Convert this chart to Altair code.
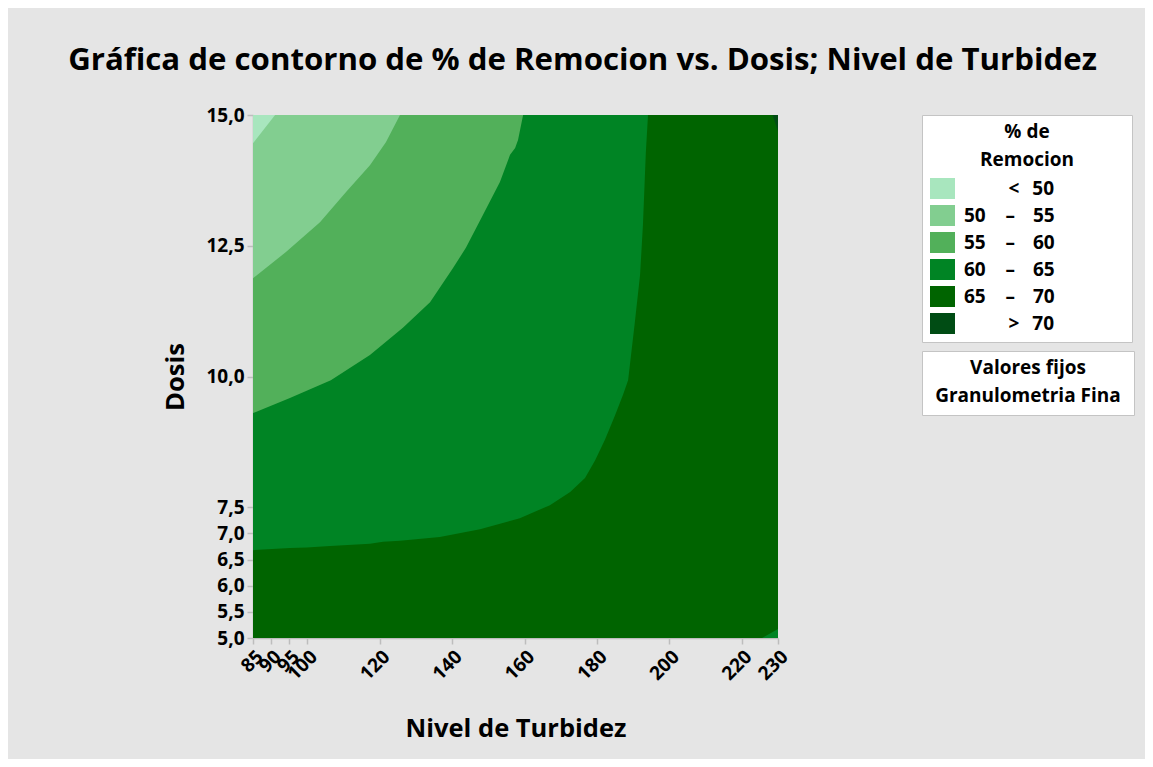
import altair as alt
import pandas as pd

FONT = "Open Sans"
NB = "\u00a0"
ZW = "\u200b"
TH = "\u2009"

title_text = "Gráfica de contorno de % de Remocion vs. Dosis; Nivel de Turbidez"
x_title = "Nivel de Turbidez"
y_title = "Dosis"
fixed_title = "Valores fijos"
fixed_value = "Granulometria Fina"
legend_title = ["% de", "Remocion"]

band_names = ["< 50", "50 – 55", "55 – 60", "60 – 65", "65 – 70", "> 70"]
band_colors = ["#a8e6be", "#82ce90", "#52b05a", "#008424", "#006400", "#004c14"]

x_ticks = [85, 90, 95, 100, 120, 140, 160, 180, 200, 220, 230]
y_ticks = [5.0, 5.5, 6.0, 6.5, 7.0, 7.5, 10.0, 12.5, 15.0]
x_domain = [85, 230]
y_domain = [5, 15]

# full plot (65 - 70 background band)
base_x = [85, 230]
base_y = [5, 5]

# boundary 60-65 above / 65-70 below
bA_x = [85, 95.2, 99.8, 106.3, 117.3, 120.9, 125.6, 136.6, 147.7, 158.7, 167.0,
        172.6, 176.7, 179.5, 182.2, 185.0, 187.2, 188.6, 190.4, 191.9, 192.7, 193.5, 194.1]
bA_y = [6.68, 6.72, 6.73, 6.76, 6.80, 6.84, 6.86, 6.93, 7.08, 7.29, 7.54,
        7.79, 8.06, 8.40, 8.79, 9.26, 9.65, 9.93, 11.0, 11.94, 12.90, 14.29, 15.0]

# boundary 55-60 above / 60-65 below
bB_x = [85, 95.2, 106.5, 117.3, 126.4, 133.9, 140.2, 143.8, 148.5, 153.2, 156.0, 157.4, 158.2, 159.6]
bB_y = [9.30, 9.59, 9.93, 10.41, 10.93, 11.42, 12.07, 12.46, 13.09, 13.72, 14.24, 14.37, 14.52, 15.0]

# boundary 50-55 above / 55-60 below
bC_x = [85, 94.1, 103.5, 110.7, 117.3, 121.7, 125.6]
bC_y = [11.88, 12.38, 12.95, 13.53, 14.04, 14.48, 15.0]

# boundary <50 above / 50-55 below
bD_x = [85, 91.1]
bD_y = [14.46, 15.0]

# bottom-right sliver of 60-65
sE_x = [225.6, 230]
sE_y = [5.0, 5.17]

# top-right sliver of > 70
sF_x = [228.5, 230]
sF_y = [15.0, 14.69]

TRAIL = NB * 14 + ZW
label_map = {
    "< 50": ZW + NB * 9 + "<" + NB * 2 + TH + "50",
    "50 – 55": "50" + NB * 4 + "–" + NB * 3 + TH + "55",
    "55 – 60": "55" + NB * 4 + "–" + NB * 3 + TH + "60",
    "60 – 65": "60" + NB * 4 + "–" + NB * 3 + TH + "65",
    "65 – 70": "65" + NB * 4 + "–" + NB * 3 + TH + "70",
    "> 70": ZW + NB * 9 + ">" + NB * 2 + TH + "70",
}
band_display = [label_map[b] + TRAIL for b in band_names]
display_of = dict(zip(band_names, band_display))

regions = [
    ("base", "65 – 70", base_x, base_y, y_domain[1]),
    ("A", "60 – 65", bA_x, bA_y, y_domain[1]),
    ("B", "55 – 60", bB_x, bB_y, y_domain[1]),
    ("C", "50 – 55", bC_x, bC_y, y_domain[1]),
    ("D", "< 50", bD_x, bD_y, y_domain[1]),
    ("E", "60 – 65", sE_x, sE_y, y_domain[0]),
    ("F", "> 70", sF_x, sF_y, y_domain[1]),
]

rows = []
for part, band, xs, ys, edge in regions:
    for xv, yv in zip(xs, ys):
        rows.append({"part": part, "band": display_of[band], "x": xv, "y": yv, "edge": edge})
df = pd.DataFrame(rows)

x_enc = alt.X(
    "x:Q",
    scale=alt.Scale(domain=x_domain, nice=False, zero=False),
    axis=alt.Axis(
        title=x_title, values=x_ticks, format="d", labelAngle=315,
        labelOverlap=False, labelFlush=False, grid=False, titlePadding=33,
    ),
)
y_enc = alt.Y(
    "y:Q",
    scale=alt.Scale(domain=y_domain, nice=False, zero=False),
    stack=None,
    axis=alt.Axis(
        title=y_title, values=y_ticks,
        labelExpr="replace(format(datum.value, '.1f'), '.', ',')",
        labelOverlap=False, labelFlush=False, grid=False, titlePadding=17,
    ),
)

color_enc = alt.Color(
    "band:N",
    scale=alt.Scale(domain=band_display, range=band_colors),
    legend=alt.Legend(
        title=legend_title, orient="none", legendX=669, legendY=0,
        symbolType="M-1,-0.84H1V0.84H-1Z", symbolSize=625,
        symbolStrokeWidth=0, symbolOpacity=1, labelOffset=9, rowPadding=4,
        titleAnchor="middle", titleAlign="center", titleLineHeight=28,
        titlePadding=6, padding=8,
    ),
)

layers = []
for part, band, xs, ys, edge in regions:
    layers.append(
        alt.Chart(df)
        .transform_filter(alt.datum.part == part)
        .mark_area(interpolate="linear", opacity=1)
        .encode(x=x_enc, y=y_enc, y2=alt.Y2("edge:Q"), color=color_enc)
    )

# fixed-value box: both lines drawn as the legend title, entry kept invisible
fixed_df = pd.DataFrame({"x": [x_domain[0]], "y": [y_domain[0]], "fijo": [ZW]})
fixed_layer = alt.Chart(fixed_df).mark_point(size=0, opacity=0).encode(
    x=x_enc, y=y_enc,
    shape=alt.Shape(
        "fijo:N",
        legend=alt.Legend(
            title=[fixed_title, ZW + NB + fixed_value + NB + ZW],
            orient="none", legendX=669, legendY=236,
            symbolOpacity=0, symbolSize=0, symbolStrokeWidth=0, labelOffset=0,
            labelFontSize=1, labelOpacity=0, labelExpr="''",
            titleAnchor="middle", titleAlign="center",
            titleLineHeight=28, titlePadding=0, padding=8, rowPadding=0,
        ),
    ),
)
layers.append(fixed_layer)

chart = (
    alt.layer(*layers)
    .properties(
        width=525, height=523,
        padding={"left": 245, "top": 107, "right": 367, "bottom": 121},
        autosize=alt.AutoSizeParams(type="none"),
        title=alt.TitleParams(
            title_text, font=FONT, fontSize=31.2, fontWeight="bold", color="#000000",
            anchor="middle", dx=67, offset=30,
        ),
        background="#e5e5e5",
    )
    .configure_view(stroke=None)
    .configure_axis(
        labelFont=FONT, labelFontSize=19, labelFontWeight="bold", labelColor="#000000",
        titleFont=FONT, titleFontSize=25.5, titleFontWeight="bold", titleColor="#000000",
        domainColor="#bdbdbd", domainWidth=1.5, tickColor="#bdbdbd", tickSize=6,
        tickWidth=1.5, labelPadding=3,
    )
    .configure_legend(
        labelFont=FONT, labelFontSize=19, labelFontWeight="bold", labelColor="#000000",
        titleFont=FONT, titleFontSize=19, titleFontWeight="bold", titleColor="#000000",
        fillColor="#ffffff", strokeColor="#c4c4c4", cornerRadius=0,
        labelLimit=400, titleLimit=400,
    )
)

chart.save("out.html", embed_options={"renderer": "svg", "actions": False})
